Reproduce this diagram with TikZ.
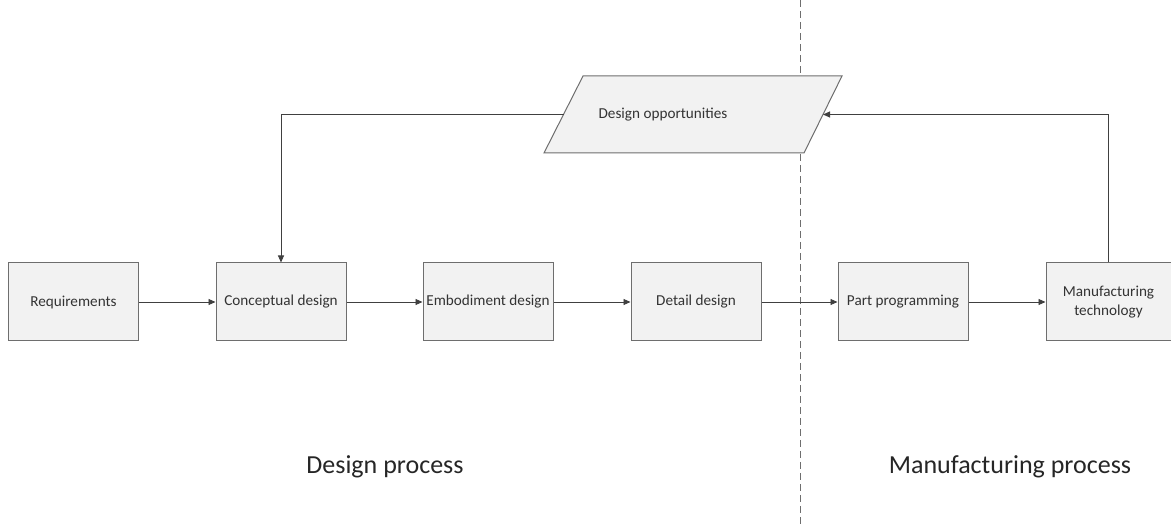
\documentclass[tikz,border=0pt]{standalone}
\usepackage{fontspec}
\setmainfont{Carlito}
\usetikzlibrary{arrows.meta,shapes.geometric}
\definecolor{boxline}{HTML}{6E6E6E}
\definecolor{boxfill}{HTML}{F2F2F2}
\definecolor{arrowc}{HTML}{404040}
\begin{document}
\begin{tikzpicture}[x=1pt,y=-1pt,
  stepbox/.style={draw=boxline,line width=1pt,fill=boxfill,minimum width=130pt,minimum height=78pt,inner sep=1pt,align=center,font=\fontsize{15.2}{19}\selectfont,text=black!80},
  conn/.style={draw=arrowc,line width=0.9pt,-{Triangle[length=7pt,width=6pt]}},
  biglabel/.style={font=\fontsize{26}{30}\selectfont,text=black!85}]
\useasboundingbox (0,0) rectangle (1171,526);
% dashed divider (behind the shapes)
\coordinate (dtop) at (800,0);
\coordinate (dbot) at (800,526);
\draw[boxline,line width=0.9pt,dash pattern=on 7pt off 4pt] (dtop) -- (dbot);
\node[stepbox] (req) at (73.5,302) {Requirements};
\node[stepbox] (con) at (281,302) {Conceptual design};
\node[stepbox] (emb) at (488,302) {Embodiment design};
\node[stepbox] (det) at (696,302) {Detail design};
\node[stepbox] (part) at (903,302) {Part programming};
\node[stepbox,minimum width=125pt] (man) at (1108.5,302) {Manufacturing\\technology};
% parallelogram
\coordinate (p1) at (583,76);
\coordinate (p2) at (842,76);
\coordinate (p3) at (804,153);
\coordinate (p4) at (544,153);
\filldraw[draw=boxline,line width=1pt,fill=boxfill] (p1) -- (p2) -- (p3) -- (p4) -- cycle;
\node[font=\fontsize{15.2}{19}\selectfont,text=black!80] (opp) at (663,114.5) {Design opportunities};
\coordinate (oppL) at (563.5,114.5);
\coordinate (oppR) at (823,114.5);
% connectors
\draw[conn] (req) -- (con);
\draw[conn] (con) -- (emb);
\draw[conn] (emb) -- (det);
\draw[conn] (det) -- (part);
\draw[conn] (part) -- (man);
\draw[conn] (oppL) -| (con.north);
\draw[conn] (man.north) |- (oppR);
% labels
\node[biglabel] (dp) at (385,467) {Design process};
\node[biglabel] (mp) at (1010,467) {Manufacturing process};
\end{tikzpicture}
\end{document}
